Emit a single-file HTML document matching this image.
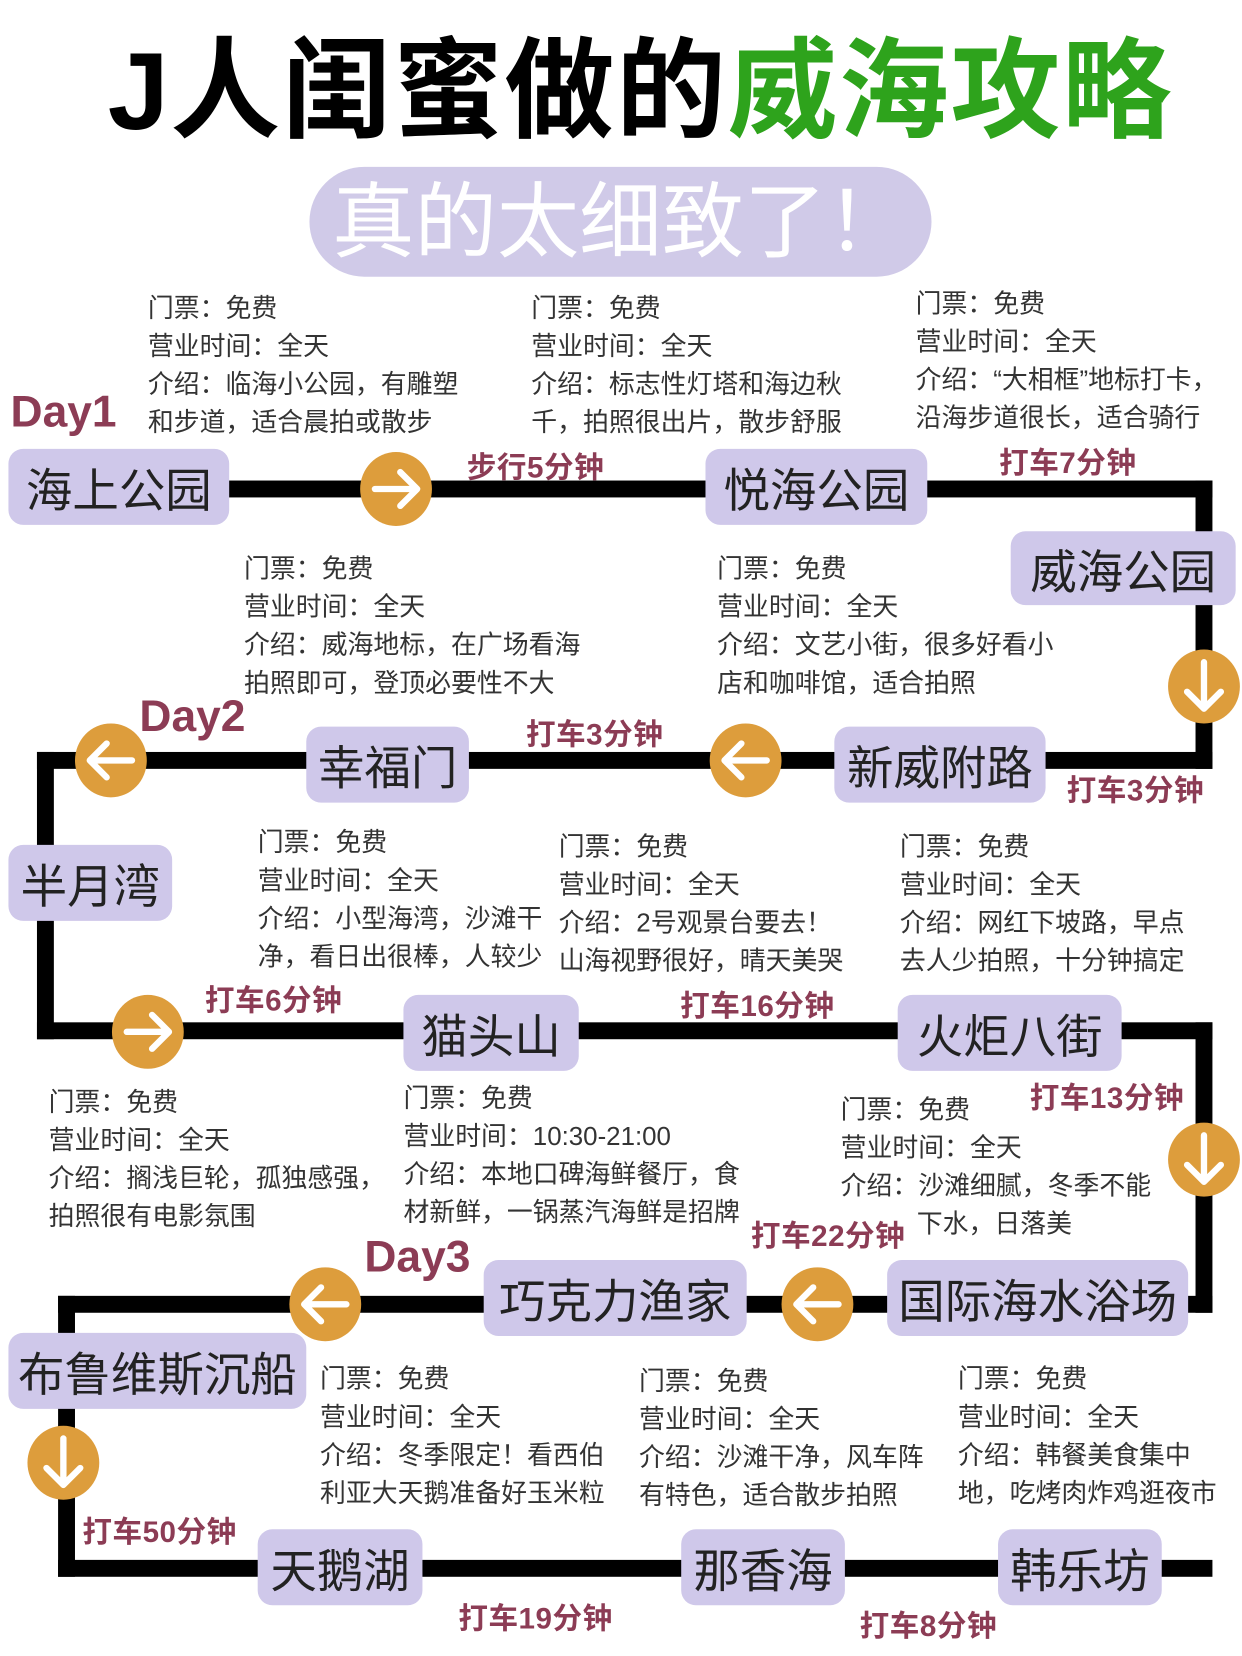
<!DOCTYPE html>
<html><head><meta charset="utf-8">
<style>
html,body{margin:0;padding:0;background:#fff;}
body{width:1242px;height:1656px;overflow:hidden;position:relative;}
#w{position:absolute;left:0;top:0;width:1176px;height:1568px;transform:scale(1.05612);transform-origin:0 0;font-family:"Liberation Sans","Noto Sans CJK SC",sans-serif;}
.a{position:absolute;white-space:nowrap;}
.ln{position:absolute;background:#000;}
.n{position:absolute;background:#cfc8ea;border-radius:14px;color:#222;font-size:44px;display:flex;align-items:center;justify-content:center;}
.c{position:absolute;width:68px;height:70px;border-radius:50%;background:#dd9d3c;}
.c svg{position:absolute;left:0;top:0}
.t{position:absolute;color:#8c3c55;font-size:28px;font-weight:bold;white-space:nowrap;letter-spacing:0.5px;}
.d{position:absolute;color:#8c3c55;font-size:42px;font-weight:bold;}
.i{position:absolute;font-size:24.5px;line-height:36px;color:#333;white-space:nowrap;}
</style></head><body><div id="w">
<div class="a" style="left:102px;top:22px;font-size:104px;font-weight:bold;letter-spacing:1.5px;line-height:130px;"><span style="color:#000">J人闺蜜做的</span><span style="color:#2ea31c">威海攻略</span></div>
<div class="a" style="left:293px;top:158px;width:589px;height:104px;border-radius:52px;background:#d0cae8;color:#fff;font-size:78px;line-height:104px;text-align:center;">真的太细致了！</div>

<div class="ln" style="left:215px;top:455px;width:933px;height:16px"></div>
<div class="ln" style="left:1132px;top:455px;width:16px;height:273px"></div>
<div class="ln" style="left:35px;top:712px;width:1113px;height:16px"></div>
<div class="ln" style="left:35px;top:712px;width:16px;height:272px"></div>
<div class="ln" style="left:35px;top:968px;width:1113px;height:16px"></div>
<div class="ln" style="left:1132px;top:968px;width:16px;height:275px"></div>
<div class="ln" style="left:55px;top:1227px;width:1093px;height:16px"></div>
<div class="ln" style="left:55px;top:1227px;width:16px;height:266px"></div>
<div class="ln" style="left:55px;top:1477px;width:1093px;height:16px"></div>

<div class="n" style="left:8px;top:425px;width:209px;height:72px">海上公园</div>
<div class="n" style="left:668px;top:425px;width:210px;height:72px">悦海公园</div>
<div class="n" style="left:957px;top:503px;width:213px;height:70px">威海公园</div>
<div class="n" style="left:290px;top:688px;width:154px;height:72px">幸福门</div>
<div class="n" style="left:790px;top:688px;width:200px;height:72px">新威附路</div>
<div class="n" style="left:8px;top:800px;width:155px;height:72px">半月湾</div>
<div class="n" style="left:382px;top:942px;width:166px;height:72px">猫头山</div>
<div class="n" style="left:850px;top:942px;width:212px;height:72px">火炬八街</div>
<div class="n" style="left:458px;top:1193px;width:249px;height:72px">巧克力渔家</div>
<div class="n" style="left:840px;top:1193px;width:285px;height:72px">国际海水浴场</div>
<div class="n" style="left:8px;top:1262px;width:282px;height:72px">布鲁维斯沉船</div>
<div class="n" style="left:244px;top:1448px;width:156px;height:72px">天鹅湖</div>
<div class="n" style="left:645px;top:1448px;width:155px;height:72px">那香海</div>
<div class="n" style="left:945px;top:1448px;width:155px;height:72px">韩乐坊</div>

<svg width="0" height="0" style="position:absolute"><defs>
<g id="R"><path d="M14 35 H54 M38 19 L54 35 L38 51" stroke="#fff" stroke-width="6" fill="none" stroke-linecap="round" stroke-linejoin="round"/></g>
<g id="L"><path d="M54 35 H14 M30 19 L14 35 L30 51" stroke="#fff" stroke-width="6" fill="none" stroke-linecap="round" stroke-linejoin="round"/></g>
<g id="D"><path d="M34 12 V56 M18 40 L34 56 L50 40" stroke="#fff" stroke-width="6" fill="none" stroke-linecap="round" stroke-linejoin="round"/></g>
</defs></svg>
<div class="c" style="left:341px;top:428px"><svg width="68" height="70"><use href="#R"/></svg></div>
<div class="c" style="left:1106px;top:615px"><svg width="68" height="70"><use href="#D"/></svg></div>
<div class="c" style="left:672px;top:685px"><svg width="68" height="70"><use href="#L"/></svg></div>
<div class="c" style="left:71px;top:685px"><svg width="68" height="70"><use href="#L"/></svg></div>
<div class="c" style="left:106px;top:942px"><svg width="68" height="70"><use href="#R"/></svg></div>
<div class="c" style="left:1106px;top:1063px"><svg width="68" height="70"><use href="#D"/></svg></div>
<div class="c" style="left:740px;top:1200px"><svg width="68" height="70"><use href="#L"/></svg></div>
<div class="c" style="left:274px;top:1200px"><svg width="68" height="70"><use href="#L"/></svg></div>
<div class="c" style="left:26px;top:1350px"><svg width="68" height="70"><use href="#D"/></svg></div>

<div class="d" style="left:10px;top:366px">Day1</div>
<div class="d" style="left:132px;top:654px">Day2</div>
<div class="d" style="left:345px;top:1166px">Day3</div>

<div class="t" style="left:442px;top:421px">步行5分钟</div>
<div class="t" style="left:946px;top:417px">打车7分钟</div>
<div class="t" style="left:498px;top:674px">打车3分钟</div>
<div class="t" style="left:1010px;top:727px">打车3分钟</div>
<div class="t" style="left:194px;top:926px">打车6分钟</div>
<div class="t" style="left:644px;top:931px">打车16分钟</div>
<div class="t" style="left:975px;top:1018px">打车13分钟</div>
<div class="t" style="left:711px;top:1149px">打车22分钟</div>
<div class="t" style="left:78px;top:1429px">打车50分钟</div>
<div class="t" style="left:434px;top:1511px">打车19分钟</div>
<div class="t" style="left:814px;top:1518px">打车8分钟</div>

<div class="i" style="left:140px;top:275px">门票：免费<br>营业时间：全天<br>介绍：临海小公园，有雕塑<br>和步道，适合晨拍或散步</div>
<div class="i" style="left:503px;top:275px">门票：免费<br>营业时间：全天<br>介绍：标志性灯塔和海边秋<br>千，拍照很出片，散步舒服</div>
<div class="i" style="left:867px;top:271px">门票：免费<br>营业时间：全天<br>介绍：“大相框”地标打卡，<br>沿海步道很长，适合骑行</div>
<div class="i" style="left:231px;top:522px">门票：免费<br>营业时间：全天<br>介绍：威海地标，在广场看海<br>拍照即可，登顶必要性不大</div>
<div class="i" style="left:679px;top:522px">门票：免费<br>营业时间：全天<br>介绍：文艺小街，很多好看小<br>店和咖啡馆，适合拍照</div>
<div class="i" style="left:244px;top:781px">门票：免费<br>营业时间：全天<br>介绍：小型海湾，沙滩干<br>净，看日出很棒，人较少</div>
<div class="i" style="left:529px;top:785px">门票：免费<br>营业时间：全天<br>介绍：2号观景台要去！<br>山海视野很好，晴天美哭</div>
<div class="i" style="left:852px;top:785px">门票：免费<br>营业时间：全天<br>介绍：网红下坡路，早点<br>去人少拍照，十分钟搞定</div>
<div class="i" style="left:46px;top:1027px">门票：免费<br>营业时间：全天<br>介绍：搁浅巨轮，孤独感强，<br>拍照很有电影氛围</div>
<div class="i" style="left:382px;top:1023px">门票：免费<br>营业时间：10:30-21:00<br>介绍：本地口碑海鲜餐厅，食<br>材新鲜，一锅蒸汽海鲜是招牌</div>
<div class="i" style="left:796px;top:1034px">门票：免费<br>营业时间：全天<br>介绍：沙滩细腻，冬季不能</div>
<div class="i" style="left:868px;top:1142px">下水，日落美</div>
<div class="i" style="left:303px;top:1289px">门票：免费<br>营业时间：全天<br>介绍：冬季限定！看西伯<br>利亚大天鹅准备好玉米粒</div>
<div class="i" style="left:605px;top:1291px">门票：免费<br>营业时间：全天<br>介绍：沙滩干净，风车阵<br>有特色，适合散步拍照</div>
<div class="i" style="left:907px;top:1289px">门票：免费<br>营业时间：全天<br>介绍：韩餐美食集中<br>地，吃烤肉炸鸡逛夜市</div>
</div></body></html>
